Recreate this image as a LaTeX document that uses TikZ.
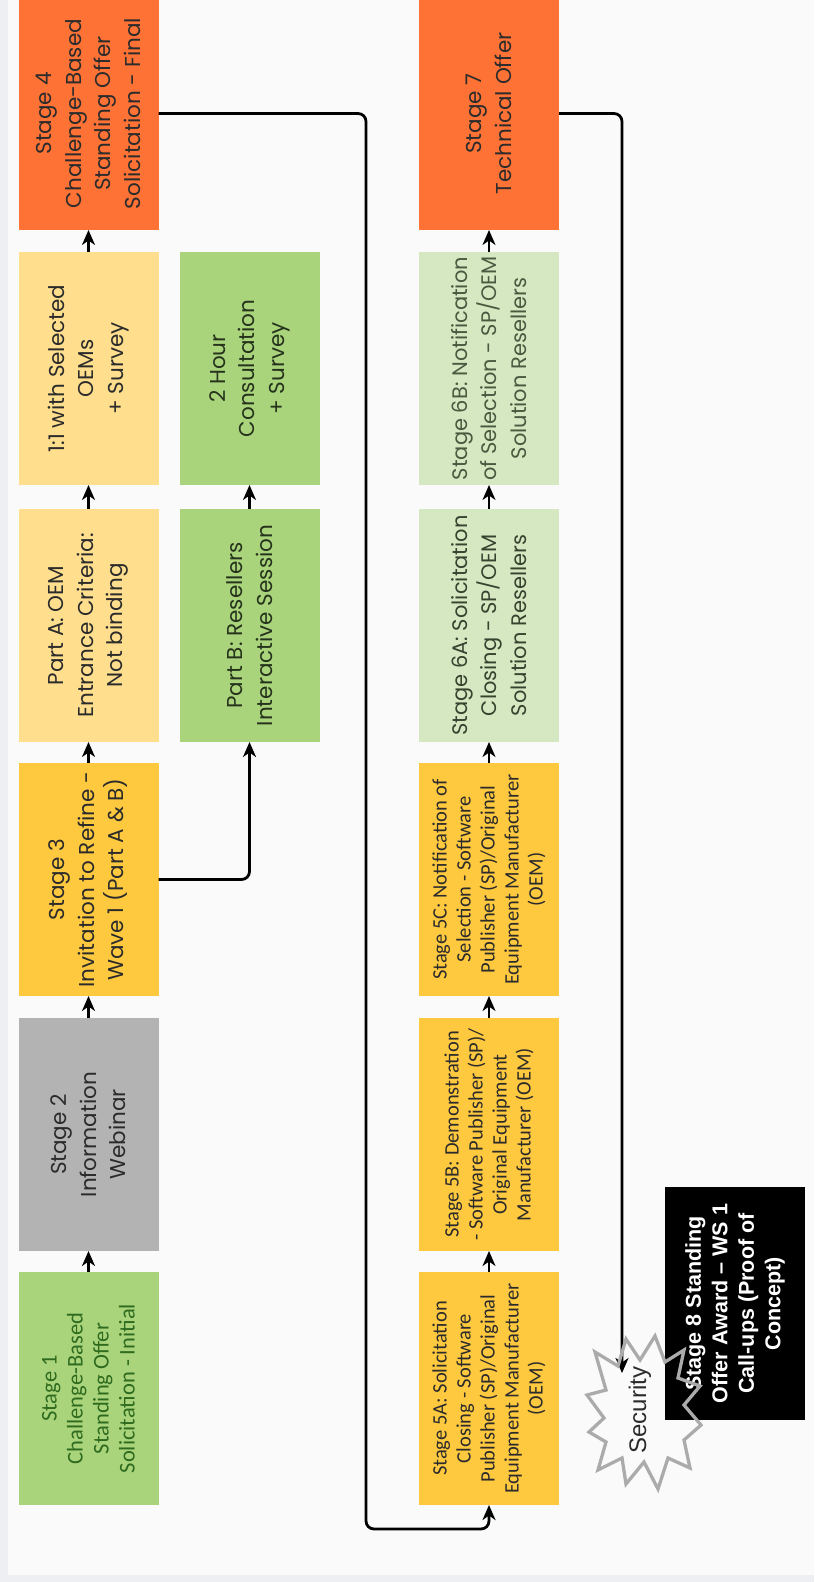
\documentclass[tikz,border=0pt]{standalone}
\usepackage{fontspec}
\setmainfont{Poppins}
\newfontfamily\carl{Carlito}
\newfontfamily\lib{Liberation Sans}
\usetikzlibrary{arrows.meta}
\definecolor{outerbg}{HTML}{EDEFF3}
\definecolor{innerbg}{HTML}{FAFAFA}
\definecolor{cOrange}{HTML}{FF7236}
\definecolor{cLYellow}{HTML}{FFDF8E}
\definecolor{cGold}{HTML}{FFC93F}
\definecolor{cGray}{HTML}{B3B3B3}
\definecolor{cGreen}{HTML}{A9D47B}
\definecolor{cPale}{HTML}{D6E8C2}
\definecolor{cDark}{HTML}{2B2B2B}
\definecolor{cDGreen}{HTML}{2F6B1F}
\definecolor{cGrnTxt}{HTML}{26331C}
\definecolor{c6a}{HTML}{36432F}
\definecolor{c6b}{HTML}{4A5A40}
\definecolor{cStar}{HTML}{ABABAB}
\begin{document}
\begin{tikzpicture}[x=1pt,y=-1pt,
  box/.style={rotate=90, minimum width=233pt, minimum height=140pt, inner sep=2pt,
    outer sep=0pt, align=center, text=cDark},
  pop/.style={font=\fontsize{21.5}{29.5}\selectfont},
  pop6/.style={font=\fontsize{21}{29.5}\selectfont},
  cal1/.style={font=\carl\fontsize{22.5}{26}\selectfont},
  cal5/.style={font=\carl\fontsize{20.5}{24}\selectfont},
  arr/.style={line width=2.2pt, -{Stealth[length=15pt,width=13pt,inset=4.5pt]}},
  longarr/.style={line width=2.8pt, rounded corners=8pt, -{Stealth[length=15pt,width=13pt,inset=4.5pt]}},
  starline/.style={draw=cStar, line width=3.3pt, line join=miter, miter limit=20}
]
\useasboundingbox (0,0) rectangle (814,1582);
\fill[outerbg] (0,0) rectangle (814,1582);
\fill[innerbg] (8,0) rectangle (814,1575);

% column 1
\node[box, pop, fill=cOrange] (s4) at (88.5,113.5) {Stage 4\\Challenge-Based\\Standing Offer\\Solicitation - Final};
\node[box, pop, fill=cLYellow] (oem) at (88.5,368.5) {1:1 with Selected\\OEMs\\+ Survey};
\node[box, pop, fill=cLYellow] (pa) at (88.5,625.5) {Part A: OEM\\Entrance Criteria:\\Not binding};
\node[box, pop, fill=cGold] (s3) at (88.5,879.5) {Stage 3\\Invitation to Refine -\\Wave 1 (Part A \& B)};
\node[box, pop, fill=cGray] (s2) at (88.5,1134.5) {Stage 2\\Information\\Webinar};
\node[box, cal1, fill=cGreen, text=cDGreen] (s1) at (88.5,1388.5) {Stage 1\\Challenge-Based\\Standing Offer\\Solicitation - Initial};

% column 2
\node[box, pop, fill=cGreen, text=cGrnTxt] (hc) at (249.5,368.5) {2 Hour\\Consultation\\+ Survey};
\node[box, pop, fill=cGreen, text=cGrnTxt] (pb) at (249.5,625.5) {Part B: Resellers\\Interactive Session};

% column 3
\node[box, pop, fill=cOrange] (s7) at (489,113.5) {Stage 7\\Technical Offer};
\node[box, pop6, fill=cPale, text=c6b] (s6b) at (489,368.5) {Stage 6B: Notification\\of Selection - SP/OEM\\Solution Resellers};
\node[box, pop6, fill=cPale, text=c6a] (s6a) at (489,625.5) {Stage 6A: Solicitation\\Closing - SP/OEM\\Solution Resellers};
\node[box, cal5, fill=cGold] (s5c) at (489,879.5) {Stage 5C: Notification of\\Selection - Software\\Publisher (SP)/Original\\Equipment Manufacturer\\(OEM)};
\node[box, cal5, fill=cGold] (s5b) at (489,1134.5) {Stage 5B: Demonstration\\- Software Publisher (SP)/\\Original Equipment\\Manufacturer (OEM)};
\node[box, cal5, fill=cGold] (s5a) at (489,1388.5) {Stage 5A: Solicitation\\Closing - Software\\Publisher (SP)/Original\\Equipment Manufacturer\\(OEM)};

% short arrows
\draw[arr] (s1.east) -- (s2.west);
\draw[arr] (s2.east) -- (s3.west);
\draw[arr] (s3.east) -- (pa.west);
\draw[arr] (pa.east) -- (oem.west);
\draw[arr] (oem.east) -- (s4.west);
\draw[arr] (pb.east) -- (hc.west);
\draw[arr] (s5a.east) -- (s5b.west);
\draw[arr] (s5b.east) -- (s5c.west);
\draw[arr] (s5c.east) -- (s6a.west);
\draw[arr] (s6a.east) -- (s6b.west);
\draw[arr] (s6b.east) -- (s7.west);

% long connectors
\coordinate (k1) at (366,1529);
\coordinate (sectip) at (622,1373);
\draw[longarr] (s3.south) -| (pb.west);
\draw[longarr] (s4.south) -| (k1) -| (s5a.west);
\draw[longarr] (s7.south) -| (sectip);

% stage 8
\node[box, fill=black, text=white, font=\lib\bfseries\fontsize{21.5}{26.5}\selectfont] (s8) at (735,1303.5) {Stage 8 Standing\\Offer Award – WS 1\\Call-ups (Proof of\\Concept)};

% security starburst
\draw[starline] (655,1336) -- (665,1362) -- (684,1350) -- (678,1378) -- (700,1386) -- (684,1405)
  -- (701,1425) -- (684,1440) -- (690,1468) -- (668,1458) -- (658,1489) -- (644,1462)
  -- (626,1484) -- (622,1458) -- (598,1470) -- (606,1442) -- (589,1432) -- (604,1418)
  -- (587,1395) -- (606,1390) -- (595,1352) -- (618,1366) -- (626,1339) -- (640,1360) -- cycle;
\node[rotate=90, inner sep=0pt, text=cDark, font=\lib\fontsize{24}{28}\selectfont] (sec) at (640,1410) {Security};
\end{tikzpicture}
\end{document}
